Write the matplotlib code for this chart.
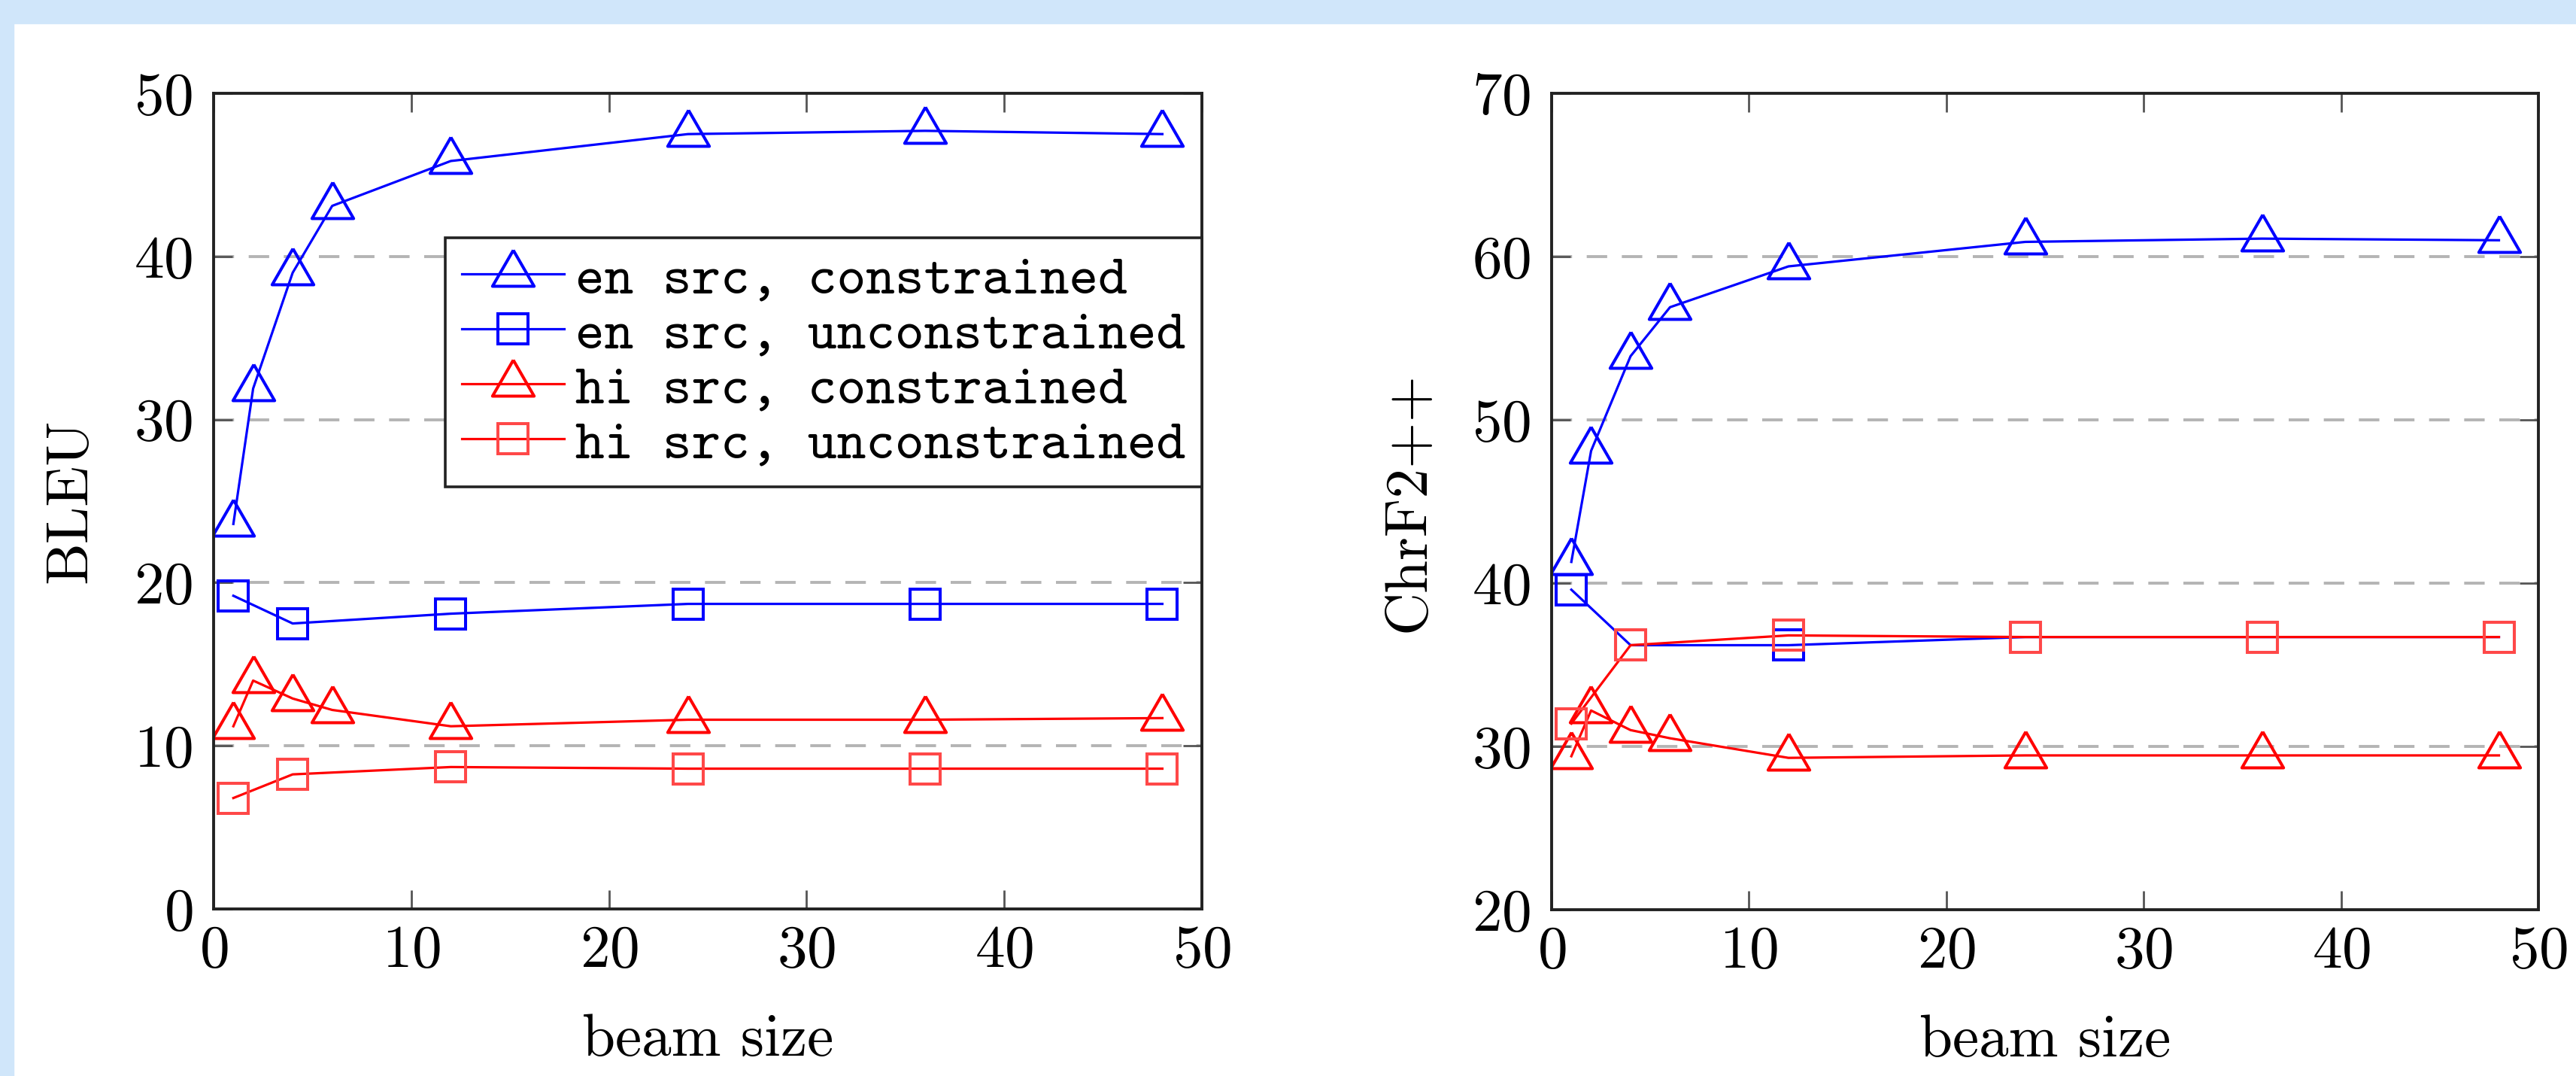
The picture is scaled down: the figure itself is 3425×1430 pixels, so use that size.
import numpy as np
import matplotlib
matplotlib.use("Agg")
import matplotlib.pyplot as plt
from matplotlib.patches import Rectangle

# beam sizes
beam_con = [1, 2, 4, 6, 12, 24, 36, 48]
beam_unc = [1, 4, 12, 24, 36, 48]

# BLEU
bleu_en_con = [23.6, 31.9, 39.0, 43.1, 45.85, 47.5, 47.7, 47.5]
bleu_en_unc = [19.2, 17.5, 18.1, 18.7, 18.7, 18.7]
bleu_hi_con = [11.2, 14.0, 12.9, 12.2, 11.2, 11.6, 11.6, 11.7]
bleu_hi_unc = [6.8, 8.25, 8.7, 8.6, 8.6, 8.6]

# ChrF2++
chrf_en_con = [41.3, 48.1, 53.9, 56.9, 59.4, 60.9, 61.1, 61.0]
chrf_en_unc = [39.6, 36.2, 36.2, 36.7, 36.7, 36.7]
chrf_hi_con = [29.4, 32.2, 31.0, 30.5, 29.3, 29.45, 29.45, 29.45]
chrf_hi_unc = [31.4, 36.2, 36.8, 36.7, 36.7, 36.7]

labels = ["en src, constrained", "en src, unconstrained",
          "hi src, constrained", "hi src, unconstrained"]

plt.rcParams["font.family"] = "cmr10"
plt.rcParams["axes.formatter.use_mathtext"] = True

# triangle centred on its centroid, like pgfplots
tri = [(0, 1), (-0.866, -0.5), (0.866, -0.5), (0, 1)]

fig = plt.figure(figsize=(34.25, 14.3), dpi=100)
fig.patches.append(Rectangle((0, 1 - 31 / 1430), 1, 31 / 1430, transform=fig.transFigure,
                             color="#d0e6fa", zorder=0))
fig.patches.append(Rectangle((0, 0), 18 / 3425, 1, transform=fig.transFigure,
                             color="#d0e6fa", zorder=0))

ax1 = fig.add_axes([284 / 3425, 222 / 1430, 1314 / 3425, 1084 / 1430])
ax2 = fig.add_axes([2063 / 3425, 221 / 1430, 1312 / 3425, 1085 / 1430])


def draw(ax, en_con, en_unc, hi_con, hi_unc, ylim, ylabel):
    lw = 2.3
    mew = 2.9
    ax.plot(beam_con, en_con, color="blue", lw=lw, marker=tri, ms=46, mfc="none",
            mec="blue", mew=mew, label=labels[0])
    ax.plot(beam_unc, en_unc, color="blue", lw=lw, marker="s", ms=29, mfc="none",
            mec="blue", mew=mew, label=labels[1])
    ax.plot(beam_con, hi_con, color="red", lw=lw, marker=tri, ms=46, mfc="none",
            mec="red", mew=mew, label=labels[2])
    ax.plot(beam_unc, hi_unc, color="red", lw=lw, marker="s", ms=29, mfc="none",
            mec="#ff4848", mew=mew, label=labels[3])
    ax.set_xlim(0, 50)
    ax.set_ylim(*ylim)
    ax.set_xticks([0, 10, 20, 30, 40, 50])
    ax.set_yticks(np.arange(ylim[0], ylim[1] + 1, 10))
    for y in np.arange(ylim[0] + 10, ylim[1], 10):
        ax.axhline(y, color="#b4b4b4", lw=2.8, linestyle=(0, (7, 5)), zorder=0.5)
    ax.tick_params(direction="in", top=True, right=True, length=18, width=2.0,
                   color="#555555", labelsize=57)
    ax.tick_params(axis="y", pad=20)
    ax.tick_params(axis="x", pad=15)
    for s in ax.spines.values():
        s.set_linewidth(2.8)
        s.set_color("#222222")
    ax.set_xlabel("beam size", fontsize=57, labelpad=34)
    ax.set_ylabel(ylabel, fontsize=57, labelpad=34)


draw(ax1, bleu_en_con, bleu_en_unc, bleu_hi_con, bleu_hi_unc, (0, 50), "BLEU")
draw(ax2, chrf_en_con, chrf_en_unc, chrf_hi_con, chrf_hi_unc, (20, 70), "ChrF2++")

leg = ax1.legend(loc="upper right", bbox_to_anchor=(1.0, 0.823), borderaxespad=0,
                 prop={"family": "cmtt10", "size": 53}, handlelength=1.84,
                 handletextpad=0.2, borderpad=0.3, labelspacing=0.06,
                 fancybox=False, framealpha=1, edgecolor="#222222")
leg.get_frame().set_linewidth(2.6)

fig.savefig("out.png", dpi=100, facecolor="white")
